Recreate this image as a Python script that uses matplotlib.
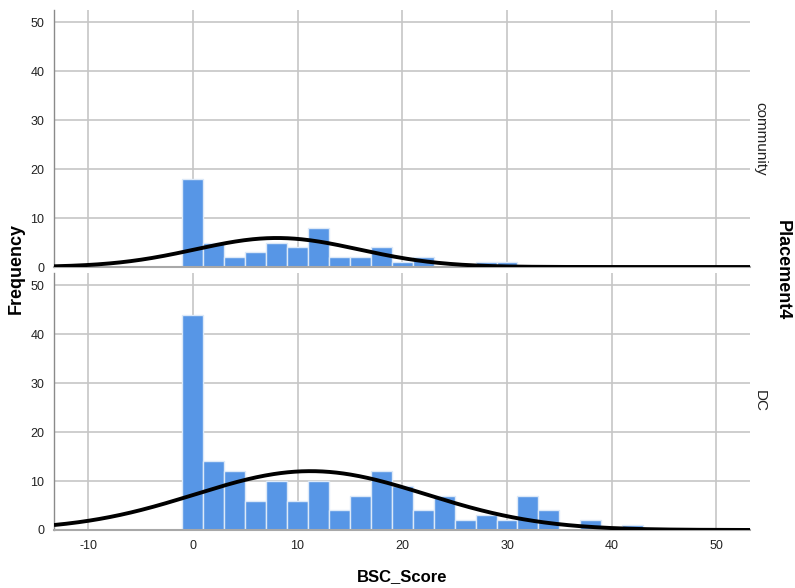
import matplotlib
matplotlib.use('Agg')
import matplotlib.pyplot as plt
import numpy as np

# histogram bins (width 2, centred on even scores)
bin_centers = np.arange(0, 44, 2)
community_counts = [18, 5, 2, 3, 5, 4, 8, 2, 2, 4, 1, 2, 0, 0, 1, 1, 0, 0, 0, 0, 0, 0]
dc_counts = [44, 14, 12, 6, 10, 6, 10, 4, 7, 12, 9, 4, 7, 2, 3, 2, 7, 4, 0, 2, 0, 1]
panel_names = ['community', 'DC']
x_ticks = [-10, 0, 10, 20, 30, 40, 50]
y_ticks = [0, 10, 20, 30, 40, 50]

bin_width = 2
bar_color = '#5796E6'
grid_color = '#C6C6C6'
plt.rcParams['font.family'] = ['Liberation Sans', 'DejaVu Sans']
plt.rcParams['axes.unicode_minus'] = False

fig = plt.figure(figsize=(7.95, 5.88), dpi=100)
W, H = 795.0, 588.0
left, right = 54, 750
panels = [(10, 267), (273, 530)]

xs = np.linspace(-13.25, 53.2, 400)

for i, (counts, name) in enumerate(zip([community_counts, dc_counts], panel_names)):
    top, bottom = panels[i]
    ax = fig.add_axes([left / W, 1 - bottom / H, (right - left) / W, (bottom - top) / H])
    counts = np.array(counts)
    ax.bar(bin_centers, counts, width=bin_width, color=bar_color,
           edgecolor='#DCE9F8', linewidth=1.0, zorder=2)

    # normal curve from the binned data
    n = counts.sum()
    mean = (counts * bin_centers).sum() / n
    sd = np.sqrt((counts * (bin_centers - mean) ** 2).sum() / n)
    ys = n * bin_width / (sd * np.sqrt(2 * np.pi)) * np.exp(-0.5 * ((xs - mean) / sd) ** 2)
    ax.plot(xs, ys, color='black', linewidth=2.8, zorder=3, solid_capstyle='butt')

    ax.set_xlim(-13.25, 53.2)
    ax.set_ylim(0, 52.5)
    ax.set_xticks(x_ticks)
    ax.set_yticks(y_ticks)
    ax.grid(True, color=grid_color, linewidth=1.2, zorder=0)
    ax.set_axisbelow(True)
    ax.tick_params(length=0, pad=7, labelsize=9, colors='#222222')
    for s in ['top', 'right']:
        ax.spines[s].set_visible(False)
    ax.spines['left'].set_color('#8A8A8A')
    ax.spines['left'].set_linewidth(1.0)
    ax.spines['bottom'].set_color('#A8A8A8')
    ax.spines['bottom'].set_linewidth(1.5)
    if i == 0:
        ax.set_xticklabels([])

    fig.text(760 / W, 1 - ((top + bottom) / 2) / H, name, rotation=-90,
             ha='center', va='center', fontsize=11, color='#222222')

fig.text(16 / W, 1 - 269 / H, 'Frequency', rotation=90, ha='center', va='center',
         fontsize=13, fontweight='bold')
fig.text(782 / W, 1 - 270 / H, 'Placement4', rotation=-90, ha='center', va='center',
         fontsize=13, fontweight='bold')
fig.text(402 / W, 1 - 577 / H, 'BSC_Score', ha='center', va='center',
         fontsize=12, fontweight='bold')

plt.savefig('out.png', dpi=100)
plt.close()
